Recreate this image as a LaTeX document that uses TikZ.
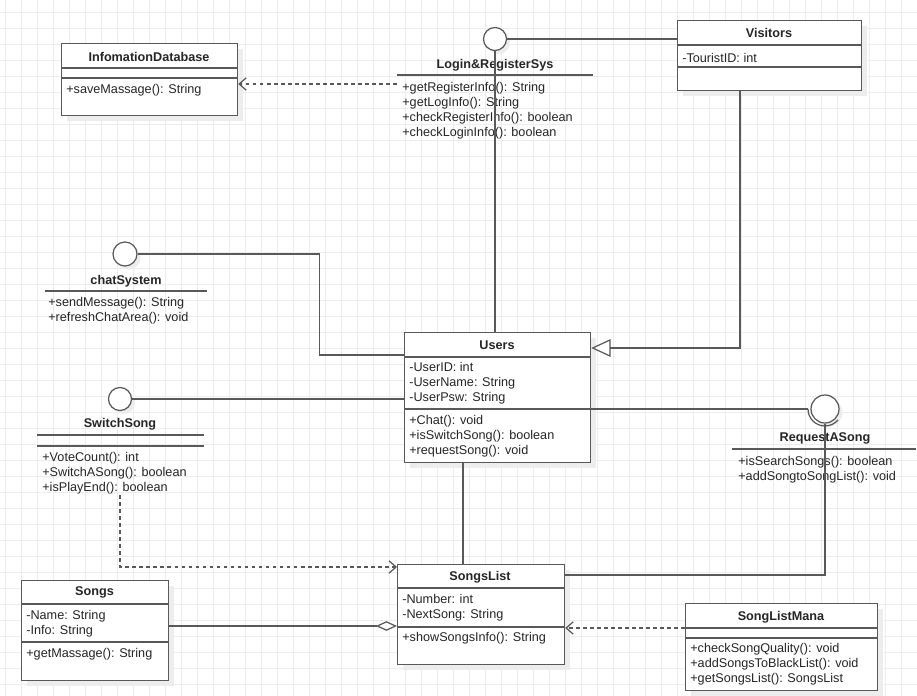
\documentclass[tikz,border=0pt]{standalone}
\usepackage{fontspec}
\setmainfont{Liberation Sans}
\usetikzlibrary{arrows.meta,positioning,shadows,calc}

\newdimen\px
\px=0.02cm
\newcommand\umlfont{\fontsize{7.2pt}{8.5pt}\selectfont}

\begin{document}
\begin{tikzpicture}[
    x=0.02cm, y=-0.02cm,
    line/.style={draw=black!65, line width=0.7pt},
    classbox/.style={line, fill=white, rectangle, anchor=north west, inner sep=0pt,
        general shadow={fill=black!7, shadow xshift=3pt, shadow yshift=-3pt}},
    iface/.style={line, fill=white, circle, inner sep=0pt,
        general shadow={fill=black!7, shadow xshift=2pt, shadow yshift=-2pt}},
    title/.style={font=\umlfont\bfseries, text=black!85, inner sep=0pt, yshift=-0.5pt},
    member/.style={font=\umlfont, text=black!85, anchor=west, align=left, inner sep=0pt, yshift=-0.9pt},
    dep/.style={line, dash pattern=on 2pt off 2pt, -{Straight Barb[length=4pt, width=7pt]}},
    inherit/.style={line, -{Triangle[open, length=11pt, width=10pt, fill=white]}},
    aggr/.style={line, {Diamond[open, length=12pt, width=5.5pt, fill=white]}-},
    gridline/.style={draw=black!7, line width=0.5pt}
]

    % Bakgrunn med rutenett
    \useasboundingbox (0,0) rectangle (917,696);
    \fill[white] (0,0) rectangle (917,696);
    \foreach \gx in {5,21,...,917} \draw[gridline] (\gx,0) -- (\gx,696);
    \foreach \gy in {12,28,...,696} \draw[gridline] (0,\gy) -- (917,\gy);

    % Klasser
    \node [classbox, minimum width=176\px, minimum height=72\px] (db) at (61,43) {};
    \node [title] (dbtitle) at (149,56) {InfomationDatabase};
    \node [member] (dbops) at (66,89) {+saveMassage(): String};
    \draw [line] ($(db.north west)+(0,25)$) -- ($(db.north east)+(0,25)$);
    \draw [line] ($(db.north west)+(0,35)$) -- ($(db.north east)+(0,35)$);

    \node [classbox, minimum width=184\px, minimum height=70\px] (vis) at (677,20) {};
    \node [title] (vistitle) at (769,32) {Visitors};
    \node [member] (visattr) at (682,56) {-TouristID: int};
    \draw [line] ($(vis.north west)+(0,25)$) -- ($(vis.north east)+(0,25)$);
    \draw [line] ($(vis.north west)+(0,47)$) -- ($(vis.north east)+(0,47)$);

    \node [classbox, minimum width=186\px, minimum height=130\px] (users) at (404,332) {};
    \node [title] (userstitle) at (497,344) {Users};
    \node [member] (usersattr) at (409,382) {-UserID: int\\-UserName: String\\-UserPsw: String};
    \node [member] (usersops) at (409,435) {+Chat(): void\\+isSwitchSong(): boolean\\+requestSong(): void};
    \draw [line] ($(users.north west)+(0,25)$) -- ($(users.north east)+(0,25)$);
    \draw [line] ($(users.north west)+(0,77)$) -- ($(users.north east)+(0,77)$);

    \node [classbox, minimum width=167\px, minimum height=100\px] (slist) at (397,564) {};
    \node [title] (slisttitle) at (480,576) {SongsList};
    \node [member] (slistattr) at (402,606.5) {-Number: int\\-NextSong: String};
    \node [member] (slistops) at (402,637) {+showSongsInfo(): String};
    \draw [line] ($(slist.north west)+(0,24)$) -- ($(slist.north east)+(0,24)$);
    \draw [line] ($(slist.north west)+(0,63)$) -- ($(slist.north east)+(0,63)$);

    \node [classbox, minimum width=147\px, minimum height=100\px] (songs) at (21,580) {};
    \node [title] (songstitle) at (94.5,592) {Songs};
    \node [member] (songsattr) at (26,622.5) {-Name: String\\-Info: String};
    \node [member] (songsops) at (26,653) {+getMassage(): String};
    \draw [line] ($(songs.north west)+(0,24)$) -- ($(songs.north east)+(0,24)$);
    \draw [line] ($(songs.north west)+(0,62)$) -- ($(songs.north east)+(0,62)$);

    \node [classbox, minimum width=192\px, minimum height=87\px] (mana) at (685,603) {};
    \node [title] (manatitle) at (781,616) {SongListMana};
    \node [member] (manaops) at (690,663) {+checkSongQuality(): void\\+addSongsToBlackList(): void\\+getSongsList(): SongsList};
    \draw [line] ($(mana.north west)+(0,25)$) -- ($(mana.north east)+(0,25)$);
    \draw [line] ($(mana.north west)+(0,35)$) -- ($(mana.north east)+(0,35)$);

    % Grensesnitt
    \node [iface, minimum size=23\px] (login) at (495,39) {};
    \node [title] (logintitle) at (495,64) {Login\&RegisterSys};
    \node [member] (loginops) at (402,109) {+getRegisterInfo(): String\\+getLogInfo(): String\\+checkRegisterInfo(): boolean\\+checkLoginInfo(): boolean};
    \draw [line] (397,75) -- (593,75);

    \node [iface, minimum size=24\px] (chat) at (125,254) {};
    \node [title] (chattitle) at (126,280) {chatSystem};
    \node [member] (chatops) at (48,309.5) {+sendMessage(): String\\+refreshChatArea(): void};
    \draw [line] (45,291) -- (207,291);

    \node [iface, minimum size=23\px] (switch) at (120,399) {};
    \node [title] (switchtitle) at (120,423) {SwitchSong};
    \node [member] (switchops) at (42,471.5) {+VoteCount(): int\\+SwitchASong(): boolean\\+isPlayEnd(): boolean};
    \draw [line] (37,435) -- (204,435);
    \draw [line] (37,446) -- (204,446);

    \node [iface, minimum size=28\px] (req) at (825,409) {};
    \draw [line] ($(req.center)+(-17,0)$) arc [start angle=180, end angle=40, radius=17];
    \node [title] (reqtitle) at (825,438) {RequestASong};
    \node [member] (reqops) at (738,468.5) {+isSearchSongs(): boolean\\+addSongtoSongList(): void};
    \draw [line] (732,449) -- (916,449);

    % Forbindelser
    \draw [line] (login.east) -- (login.east -| vis.west);
    \draw [line] (login.south) -- (login.south |- users.north);
    \coordinate (lr) at (397,84);
    \draw [dep] (lr) -- (lr -| db.east);
    \draw [inherit] ($(vis.south west)+(63,0)$) |- ($(users.north east)+(0,16)$);
    \draw [line] (chat.east) -- ++(182,0) |- ($(users.north west)+(0,23)$);
    \draw [line] (switch.east) -- (switch.east -| users.west);
    \draw [line] ($(users.north east)+(0,77)$) -- ($(req.center)+(-17,0)$);
    \draw [line] (req.south) |- ($(slist.north east)+(0,11)$);
    \draw [line] ($(users.south west)+(59,0)$) -- ($(slist.north west)+(66,0)$);
    \draw [dep] ($(switch.center)+(0,96)$) |- ($(slist.north west)+(0,3)$);
    \draw [aggr] ($(slist.north west)+(0,62)$) -- ($(songs.north east)+(0,46)$);
    \draw [dep] ($(mana.north west)+(0,25)$) -- ($(slist.north east)+(0,64)$);

\end{tikzpicture}
\end{document}
